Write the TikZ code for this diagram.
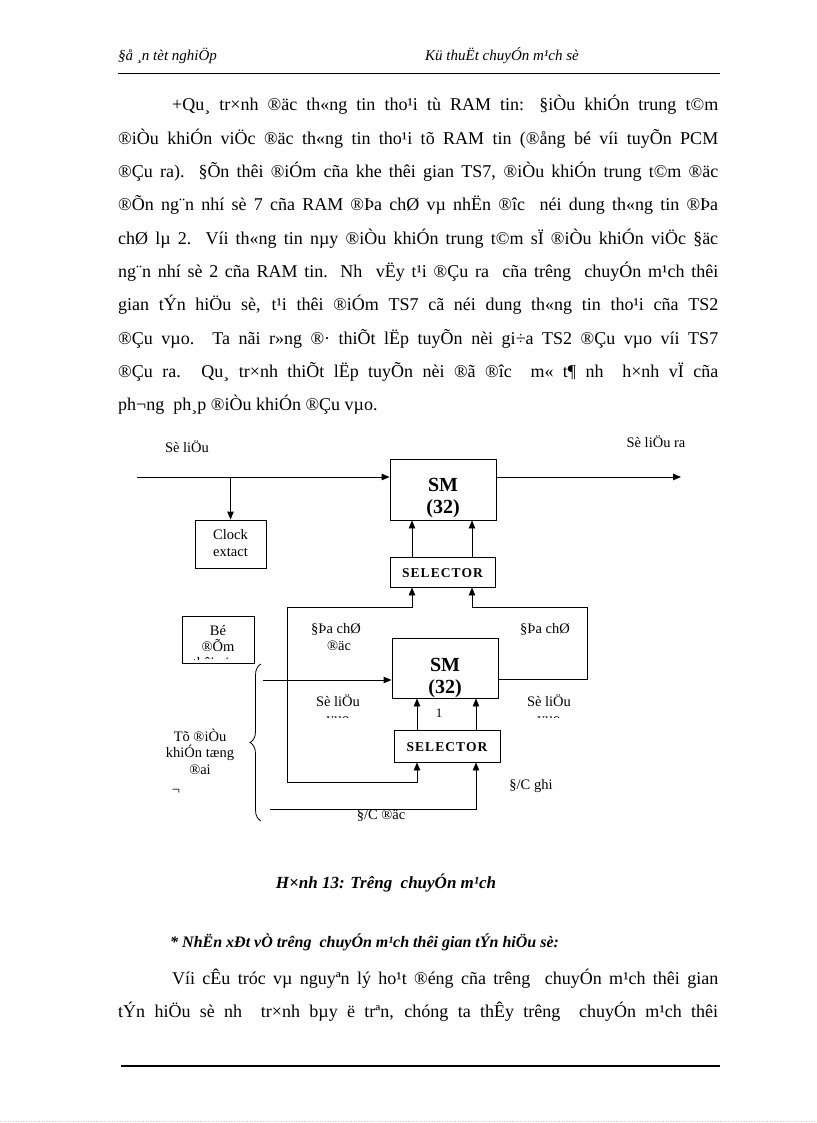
\documentclass[tikz,border=0pt]{standalone}
\usepackage{fontspec}
\setmainfont{Liberation Serif}
\usetikzlibrary{arrows.meta,decorations.pathreplacing}
\newcommand\jline[2]{\makebox[#1][s]{#2}}
\tikzset{
  body/.style={anchor=base west, inner sep=0pt, font=\fontsize{18}{20}\selectfont},
  hdr/.style={anchor=base west, inner sep=0pt, font=\fontsize{15}{17}\selectfont\itshape},
  lbl/.style={anchor=base, inner sep=0pt, font=\fontsize{14.5}{16}\selectfont},
  smtxt/.style={anchor=base, inner sep=0pt, font=\fontsize{20}{22}\selectfont\bfseries},
  seltxt/.style={anchor=base, inner sep=0pt, font=\fontsize{13.5}{15}\selectfont\bfseries\addfontfeature{LetterSpace=8}},
  blk/.style={draw, line width=0.9pt, inner sep=0pt},
  wire/.style={line width=0.9pt},
  arr/.style={wire, -{Triangle[length=8pt,width=6.5pt]}},
  darr/.style={wire, {Triangle[length=8pt,width=6.5pt]}-{Triangle[length=8pt,width=6.5pt]}},
}
\begin{document}
\begin{tikzpicture}[x=1pt,y=-1pt]
\useasboundingbox (0,0) rectangle (816,1123);
% header
\node[hdr] (h1) at (118,61) {§å ¸n tèt nghiÖp};
\node[hdr] (h2) at (425,61) {Kü thuËt chuyÓn m¹ch sè};
\draw[line width=0.8pt] (118,73) -- (720,73);
% paragraph
\node[body] (p1) at (172,111) {\jline{546pt}{+Qu¸ tr×nh ®äc th«ng tin tho¹i tù RAM tin: §iÒu khiÓn trung t©m}};
\node[body] (p2) at (118,144.3) {\jline{600pt}{®iÒu khiÓn viÖc ®äc th«ng tin tho¹i tõ RAM tin (®ång bé víi tuyÕn PCM}};
\node[body] (p3) at (118,177.6) {\jline{600pt}{®Çu ra). §Õn thêi ®iÓm cña khe thêi gian TS7, ®iÒu khiÓn trung t©m ®äc}};
\node[body] (p4) at (118,210.9) {\jline{600pt}{®Õn ng¨n nhí sè 7 cña RAM ®Þa chØ vµ nhËn ®îc \ néi dung th«ng tin ®Þa}};
\node[body] (p5) at (118,244.2) {\jline{600pt}{chØ lµ 2. Víi th«ng tin nµy ®iÒu khiÓn trung t©m sÏ ®iÒu khiÓn viÖc §äc}};
\node[body] (p6) at (118,277.5) {\jline{600pt}{ng¨n nhí sè 2 cña RAM tin. Nh \ vËy t¹i ®Çu ra \ cña trêng \ chuyÓn m¹ch thêi}};
\node[body] (p7) at (118,310.8) {\jline{600pt}{gian tÝn hiÖu sè, t¹i thêi ®iÓm TS7 cã néi dung th«ng tin tho¹i cña TS2}};
\node[body] (p8) at (118,344.1) {\jline{600pt}{®Çu vµo. Ta nãi r»ng ®· thiÕt lËp tuyÕn nèi gi÷a TS2 ®Çu vµo víi TS7}};
\node[body] (p9) at (118,377.4) {\jline{600pt}{®Çu ra. Qu¸ tr×nh thiÕt lËp tuyÕn nèi ®ã ®îc \ m« t¶ nh \ h×nh vÏ cña}};
\node[body] (p10) at (118,410.7) {ph¬ng \ ph¸p ®iÒu khiÓn ®Çu vµo.};
% diagram labels on top
\node[lbl] (l1) at (187,452) {Sè liÖu};
\node[lbl] (l2) at (656,447) {Sè liÖu ra};
% blocks
\node[blk, minimum width=106pt, minimum height=61pt] (sm1) at (443,489.5) {};
\node[smtxt] (sm1a) at (443,491.5) {SM};
\node[smtxt] (sm1b) at (443,513.5) {(32)};
\node[blk, minimum width=71pt, minimum height=48pt] (clk) at (230.5,544) {};
\node[lbl] (clka) at (230.5,539) {Clock};
\node[lbl] (clkb) at (230.5,556) {extact};
\node[blk, minimum width=105pt, minimum height=30pt] (sel1) at (442.5,572) {};
\node[seltxt] (sel1t) at (442.5,577) {SELECTOR};
\node[blk, minimum width=106pt, minimum height=60pt] (sm2) at (445,668) {};
\node[smtxt] (sm2a) at (445,671.5) {SM};
\node[smtxt] (sm2b) at (445,693.5) {(32)};
\node[blk, minimum width=106pt, minimum height=32pt] (sel2) at (447,746) {};
\node[seltxt] (sel2t) at (447,751) {SELECTOR};
\node[blk, minimum width=72pt, minimum height=47pt] (bo) at (218,639.5) {};
\begin{scope}
  \clip (183,617) rectangle (253,659);
  \node[lbl] (boa) at (218,635) {Bé};
  \node[lbl] (bob) at (218,651) {®Õm};
  \node[lbl] (boc) at (218,667.5) {thêi gian};
\end{scope}
% coordinates
\coordinate (in0) at (137,477);
\coordinate (out0) at (681,477);
\coordinate (lp) at (287,607);
\coordinate (rp) at (587,607);
\coordinate (in2) at (263,680);
\coordinate (bl) at (270,809);
% main line
\draw[arr] (in0) -- (in0 -| sm1.west);
\draw[arr] (in0 -| sm1.east) -- (out0);
\draw[arr] (in0 -| clk.north) -- (clk.north);
% selector 1 -> sm1
\draw[arr] (sel1.north -| 412,0) -- (sm1.south -| 412,0);
\draw[arr] (sel1.north -| 472,0) -- (sm1.south -| 472,0);
% selector 2 -> sm2
\draw[arr] (sel2.north -| 417,0) -- (sm2.south -| 417,0);
\draw[arr] (sel2.north -| 476,0) -- (sm2.south -| 476,0);
% left loop (read address)
\draw[darr] (sel1.south -| 412,0) -- (412,607) -- (lp) -- (287,782) -- (417,782) -- (sel2.south -| 417,0);
% right loop (sm2 output to selector 1)
\draw[arr] (sm2.east |- 0,679) -- (587,679) -- (rp) -- (472,607) -- (sel1.south -| 472,0);
% data input to sm2
\draw[arr] (in2) -- (in2 -| sm2.west);
% write address
\draw[arr] (bl) -- (476,809) -- (sel2.south -| 476,0);
% brace
\draw[line width=0.8pt, decorate, decoration={brace, amplitude=11pt}] (261,821) -- (261,664);
% labels in diagram
\node[lbl] (a1) at (336,633) {§Þa chØ};
\node[lbl] (a2) at (339,650) {®äc};
\node[lbl] (a3) at (545,633) {§Þa chØ};
\begin{scope}
  \clip (290,690) rectangle (600,717.5);
  \node[lbl] (d1) at (338,706) {Sè liÖu};
  \node[lbl] (d2) at (338,723) {vµo};
  \node[lbl] (d3) at (549,706) {Sè liÖu};
  \node[lbl] (d4) at (549,723) {vµo};
\end{scope}
\node[lbl, font=\fontsize{13}{14}\selectfont] (one) at (439,717) {1};
\node[lbl] (cg) at (531,789) {§/C ghi};
\node[lbl] (cd) at (381,819) {§/C ®äc};
\node[lbl] (t1) at (200,741) {Tõ ®iÒu};
\node[lbl] (t2) at (200,757.5) {khiÓn tæng};
\node[lbl] (t3) at (200,774) {®ai};
\node[lbl] (t4) at (176,794) {¬};
% caption
\node[anchor=base, inner sep=0pt, font=\fontsize{17}{19}\selectfont\bfseries\itshape] (cap) at (386,888) {H×nh 13: Trêng \ chuyÓn m¹ch};
\node[anchor=base west, inner sep=0pt, font=\fontsize{16}{18}\selectfont\bfseries\itshape] (nx) at (170,947) {* NhËn xÐt vÒ trêng \ chuyÓn m¹ch thêi gian tÝn hiÖu sè:};
\node[body] (q1) at (172,984) {\jline{546pt}{Víi cÊu tróc vµ nguyªn lý ho¹t ®éng cña trêng \ chuyÓn m¹ch thêi gian}};
\node[body] (q2) at (118,1017.3) {\jline{600pt}{tÝn hiÖu sè nh \ tr×nh bµy ë trªn, chóng ta thÊy trêng \ chuyÓn m¹ch thêi}};
% footer line
\draw[line width=2pt] (121,1066) -- (720,1066);
\draw[gray!40, dotted, line width=0.6pt] (0,1121) -- (816,1121);
\end{tikzpicture}
\end{document}
